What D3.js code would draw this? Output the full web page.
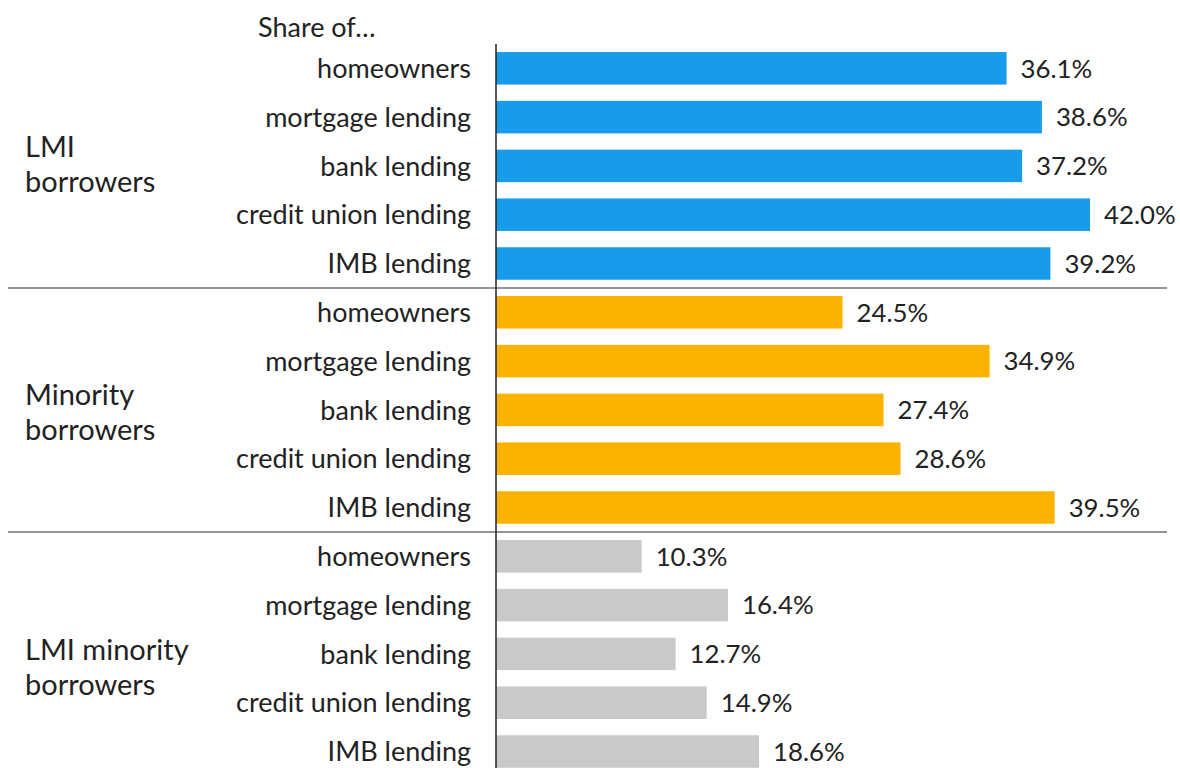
<!DOCTYPE html>
<html>
<head>
<meta charset="utf-8">
<script src="https://cdn.jsdelivr.net/npm/d3@7"></script>
<style>
  html, body { margin: 0; padding: 0; background: #fff; }
  svg { display: block; font-family: Lato, "Noto Sans", sans-serif; }
</style>
</head>
<body>
<svg id="chart" width="1180" height="768"></svg>
<script>
// Share of homeowners and lending by borrower group
const groups = [
  ["LMI", "borrowers"],
  ["Minority", "borrowers"],
  ["LMI minority", "borrowers"]
];
const categories = ["homeowners", "mortgage lending", "bank lending", "credit union lending", "IMB lending"];
const lmiValues = [36.1, 38.6, 37.2, 42.0, 39.2];
const minorityValues = [24.5, 34.9, 27.4, 28.6, 39.5];
const lmiMinorityValues = [10.3, 16.4, 12.7, 14.9, 18.6];
const groupColors = ["#179bea", "#fbb200", "#c9c9c9"];
const headerLabel = "Share of…";

const seriesValues = [lmiValues, minorityValues, lmiMinorityValues];
const rows = [];
seriesValues.forEach((vals, g) => {
  vals.forEach((v, i) => rows.push({ key: g + "-" + i, group: g, category: categories[i], value: v }));
});

const svg = d3.select("#chart");
const axisX = 496;
const textColor = "#222";

const x = d3.scaleLinear().domain([0, 42]).range([axisX, axisX + 594]);
const y = d3.scaleBand()
  .domain(rows.map(d => d.key))
  .range([43.9, 43.9 + 15 * 48.8])
  .paddingInner(0.334)
  .paddingOuter(0.167);

// bars
svg.append("g").selectAll("rect")
  .data(rows).join("rect")
  .attr("x", x(0))
  .attr("y", d => y(d.key))
  .attr("width", d => x(d.value) - x(0))
  .attr("height", y.bandwidth())
  .attr("fill", d => groupColors[d.group]);

// value labels
svg.append("g").selectAll("text")
  .data(rows).join("text")
  .attr("x", d => x(d.value) + 14)
  .attr("y", d => y(d.key) + y.bandwidth() / 2)
  .attr("dy", "0.36em")
  .attr("font-size", 25.8)
  .attr("fill", textColor)
  .text(d => d.value.toFixed(1) + "%");

// category labels
svg.append("g").selectAll("text")
  .data(rows).join("text")
  .attr("x", 471)
  .attr("y", d => y(d.key) + y.bandwidth() / 2)
  .attr("dy", "0.36em")
  .attr("text-anchor", "end")
  .attr("font-size", 27)
  .attr("fill", textColor)
  .text(d => d.category);

// group dividers
const dividerYs = [1, 2].map(g => {
  const first = y(g + "-0");
  return first - (y.step() - y.bandwidth()) / 2;
});
svg.append("g").selectAll("line")
  .data(dividerYs).join("line")
  .attr("x1", 8).attr("x2", 1167)
  .attr("y1", d => d).attr("y2", d => d)
  .attr("stroke", "#6e6e6e")
  .attr("stroke-width", 1.5);

// group labels, near each group's middle row (baseline nudge per block)
const groupLabelNudge = [-9, -5, 6];
groups.forEach((lines, g) => {
  const cy = y(g + "-2") + y.bandwidth() / 2;
  const t = svg.append("text")
    .attr("x", 25)
    .attr("y", cy + groupLabelNudge[g])
    .attr("font-size", 29)
    .attr("fill", textColor);
  lines.forEach((ln, i) => {
    t.append("tspan").attr("x", 25).attr("dy", i === 0 ? 0 : 35).text(ln);
  });
});

// header
svg.append("text")
  .attr("x", 258)
  .attr("y", 27)
  .attr("dy", "0.36em")
  .attr("font-size", 27)
  .attr("fill", textColor)
  .text(headerLabel);

// vertical axis line
svg.append("line")
  .attr("x1", axisX).attr("x2", axisX)
  .attr("y1", 44).attr("y2", 768)
  .attr("stroke", "#222")
  .attr("stroke-width", 1.5);
</script>
</body>
</html>
